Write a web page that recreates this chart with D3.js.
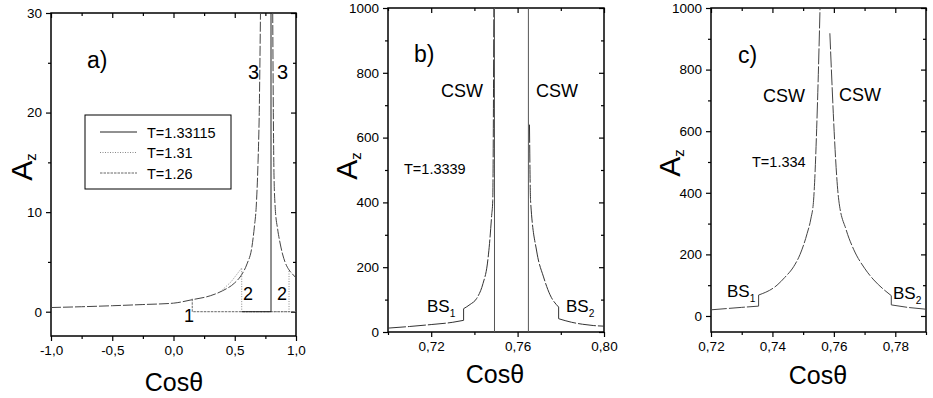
<!DOCTYPE html>
<html>
<head>
<meta charset="utf-8">
<script src="https://cdn.jsdelivr.net/npm/d3@7"></script>
<style>
  body { margin: 0; background: #fff; }
  svg text { font-family: Arial, "Liberation Sans", sans-serif; fill: #000; }
  .axis path, .axis line { stroke: #000; }
  .axis text { font-size: 13.5px; }
</style>
</head>
<body>
<svg id="fig" width="933" height="398"></svg>
<script>
// ---------------------------------------------------------------
// data

// panel a)
var aMainX  = [-1, -0.75, -0.5, -0.25, 0, 0.15, 0.3, 0.4, 0.5, 0.55, 0.6, 0.64, 0.66, 0.675, 0.69, 0.70, 0.71];
var aMainY  = [0.42, 0.5, 0.6, 0.72, 0.86, 1.2, 1.6, 2.1, 2.9, 3.6, 4.8, 6.5, 8.5, 10.5, 15, 20, 30];
var aRightX = [0.81, 0.815, 0.82, 0.83, 0.85, 0.87, 0.89, 0.91, 0.943, 0.97, 1.0];
var aRightY = [30, 20, 14, 10.5, 8.3, 6.9, 5.8, 5.0, 4.2, 3.8, 3.4];
var a131X   = [0.40, 0.47, 0.52, 0.557, 0.557, 0.557, 0.943, 0.943];
var a131Y   = [2.2, 3.0, 3.8, 4.4, 2.2, 0, 0, 4.2];
var a126X   = [0.153, 0.153, 1.0];
var a126Y   = [1.3, 0, 0];
var a133X   = [0.557, 0.796, 0.796];
var a133Y   = [0, 0, 30];
var legendLabels = ["T=1.33115", "T=1.31", "T=1.26"];

// panel b)  T=1.3339
var bLeftX  = [0.700, 0.71, 0.72, 0.73, 0.735, 0.735, 0.738, 0.741, 0.744, 0.746, 0.747, 0.748, 0.7485, 0.749];
var bLeftY  = [12, 17, 23, 30, 36, 72, 85, 103, 150, 210, 273, 360, 406, 1000];
var bRightX = [0.7655, 0.766, 0.7689, 0.772, 0.775, 0.779, 0.779, 0.785, 0.79, 0.795, 0.80];
var bRightY = [640, 406, 247, 170, 115, 77, 41, 30, 24, 20, 18];
var bLinesX = [0.7493, 0.765];

// panel c)  T=1.334
var cLeftX  = [0.72, 0.725, 0.73, 0.7355, 0.7355, 0.7415, 0.744, 0.7469, 0.749, 0.7513, 0.7525, 0.7534, 0.7547, 0.7555];
var cLeftY  = [20, 24, 28, 32, 68, 100, 125, 160, 200, 268, 315, 376, 701, 1000];
var cRightX = [0.7587, 0.7616, 0.764, 0.7665, 0.770, 0.773, 0.776, 0.7787, 0.7787, 0.784, 0.79];
var cRightY = [918, 376, 280, 215, 155, 117, 88, 66, 36, 28, 22];

// ticks
var aXMajor = [-1, -0.5, 0, 0.5, 1], aXMinor = [-0.75, -0.25, 0.25, 0.75];
var aYMajor = [0, 10, 20, 30],       aYMinor = [5, 15, 25];
var bXMajor = [0.72, 0.76, 0.80],    bXMinor = [0.70, 0.74, 0.78];
var cXMajor = [0.72, 0.74, 0.76, 0.78], cXMinor = [0.73, 0.75, 0.77, 0.79];
var kYMajor = [0, 200, 400, 600, 800, 1000], kYMinor = [100, 300, 500, 700, 900];

// ---------------------------------------------------------------

var svg = d3.select("#fig");
var comma = function(f) {
    return function(d) { return d3.format(f)(d).replace(".", ",").replace("\u2212", "-"); };
};

function zip(xs, ys) { return xs.map(function(x, i) { return [x, ys[i]]; }); }

// split a polyline where x repeats (the jumps), so each smooth piece can be curved
function pieces(pts)
{
    var out = [[pts[0]]];
    for (var i = 1; i < pts.length; i++) {
        if (pts[i][0] === pts[i - 1][0]) out.push([pts[i]]);
        else out[out.length - 1].push(pts[i]);
    }
    return out;
}

function panel(p)
{
    var g = svg.append("g");
    var x = d3.scaleLinear().domain(p.xd).range([p.l, p.r]);
    var y = d3.scaleLinear().domain(p.yd).range([p.b, p.t]);

    function ax(gen, tr, vals, size, labels) {
        var a = gen.tickValues(vals).tickSize(size).tickPadding(4);
        if (!labels) a.tickFormat("");
        else a.tickFormat(labels);
        var s = g.append("g").attr("class", "axis").attr("transform", tr).call(a);
        s.select(".domain").remove();
        s.selectAll("line").attr("stroke-width", 1.2);
        return s;
    }
    // bottom / left outward, top / right inward
    ax(d3.axisBottom(x), "translate(0," + p.b + ")", p.xMaj, 5, p.xFmt);
    ax(d3.axisBottom(x), "translate(0," + p.b + ")", p.xMin, 3);
    ax(d3.axisTop(x),    "translate(0," + p.t + ")", p.xMaj, -5);
    ax(d3.axisTop(x),    "translate(0," + p.t + ")", p.xMin, -3);
    ax(d3.axisLeft(y),   "translate(" + p.l + ",0)", p.yMaj, 5, d3.format("d"));
    ax(d3.axisLeft(y),   "translate(" + p.l + ",0)", p.yMin, 3);
    ax(d3.axisRight(y),  "translate(" + p.r + ",0)", p.yMaj, -5);
    ax(d3.axisRight(y),  "translate(" + p.r + ",0)", p.yMin, -3);

    g.append("rect")
        .attr("x", p.l).attr("y", p.t)
        .attr("width", p.r - p.l).attr("height", p.b - p.t)
        .attr("fill", "none").attr("stroke", "#000").attr("stroke-width", 1.5);

    var clipId = "clip" + p.name;
    g.append("clipPath").attr("id", clipId)
        .append("rect").attr("x", p.l).attr("y", p.t)
        .attr("width", p.r - p.l).attr("height", p.b - p.t);

    var straight = d3.line().x(function(d) { return x(d[0]); }).y(function(d) { return y(d[1]); });
    var smooth = d3.line().x(function(d) { return x(d[0]); }).y(function(d) { return y(d[1]); })
        .curve(d3.curveMonotoneX);
    var plot = g.append("g").attr("clip-path", "url(#" + clipId + ")");
    p.series.forEach(function(s) {
        var pts = zip(s.x, s.y), d;
        if (s.smooth) {
            var ps = pieces(pts);
            d = ps.map(function(q) { return q.length > 1 ? smooth(q) : ""; }).join("");
            for (var k = 1; k < ps.length; k++)
                d += straight([ps[k - 1][ps[k - 1].length - 1], ps[k][0]]);
        } else d = straight(pts);
        plot.append("path")
            .attr("d", d)
            .attr("fill", "none")
            .attr("stroke", s.color)
            .attr("stroke-width", s.w || 1)
            .attr("stroke-dasharray", s.dash || null);
    });

    // axis titles
    g.append("text")
        .attr("x", p.xt[0]).attr("y", p.xt[1])
        .attr("text-anchor", "middle").attr("font-size", 25)
        .text("Cosθ");
    var yt = g.append("text")
        .attr("transform", "translate(" + p.yt[0] + "," + p.yt[1] + ") rotate(-90)")
        .attr("text-anchor", "middle").attr("font-size", 30);
    yt.append("tspan").text("A");
    yt.append("tspan").attr("font-size", 15).attr("dy", 4).text("z");

    return { g: g, x: x, y: y };
}

function label(g, x, y, txt, size, sub)
{
    var t = g.append("text").attr("x", x).attr("y", y).attr("font-size", size).text(txt);
    if (sub) t.append("tspan").attr("font-size", size * 0.6).attr("dy", size * 0.3).text(sub);
    return t;
}

// ----- a)
var A = panel({
    name: "a", l: 51, r: 296, t: 13, b: 336,
    xd: [-1, 1], yd: [-2.44, 30],
    xMaj: aXMajor, xMin: aXMinor, yMaj: aYMajor, yMin: aYMinor,
    xFmt: comma(".1f"),
    xt: [174, 391], yt: [32, 167],
    series: [
        { x: aMainX,  y: aMainY,  color: "#444", dash: "10,2", smooth: true },
        { x: aRightX, y: aRightY, color: "#444", dash: "10,2", smooth: true },
        { x: a131X,   y: a131Y,   color: "#888", dash: "1,1.5" },
        { x: a126X,   y: a126Y,   color: "#666", dash: "2.5,1" },
        { x: a133X,   y: a133Y,   color: "#222" }
    ]
});
label(A.g, 87, 68, "a)", 23);
label(A.g, 248, 79, "3", 20);
label(A.g, 277, 79, "3", 20);
label(A.g, 243, 300, "2", 18);
label(A.g, 277, 300, "2", 18);
label(A.g, 184, 322, "1", 18);

var leg = A.g.append("g");
leg.append("rect").attr("x", 85).attr("y", 115).attr("width", 146).attr("height", 74)
    .attr("fill", "#fff").attr("stroke", "#000").attr("stroke-width", 1);
var legDash = [null, "1,1.5", "2.5,1"], legCol = ["#222", "#888", "#666"];
legendLabels.forEach(function(s, i) {
    var yy = 132 + i * 20.5;
    leg.append("line").attr("x1", 100).attr("x2", 137).attr("y1", yy).attr("y2", yy)
        .attr("stroke", legCol[i]).attr("stroke-dasharray", legDash[i]);
    leg.append("text").attr("x", 147).attr("y", yy + 5.5).attr("font-size", 14.5).text(s);
});

// ----- b)
var B = panel({
    name: "b", l: 388, r: 604, t: 8, b: 332,
    xd: [0.70, 0.80], yd: [0, 1000],
    xMaj: bXMajor, xMin: bXMinor, yMaj: kYMajor, yMin: kYMinor,
    xFmt: comma(".2f"),
    xt: [495, 383], yt: [357, 166],
    series: [
        { x: bLeftX,  y: bLeftY,  color: "#333", dash: "18,2", smooth: true },
        { x: bRightX, y: bRightY, color: "#333", dash: "18,2", smooth: true },
        { x: [bLinesX[0], bLinesX[0]], y: [0, 1000], color: "#555" },
        { x: [bLinesX[1], bLinesX[1]], y: [0, 1000], color: "#555" }
    ]
});
label(B.g, 414, 62, "b)", 23);
label(B.g, 441, 97, "CSW", 18);
label(B.g, 536, 97, "CSW", 18);
label(B.g, 404, 174, "T=1.3339", 14.5);
label(B.g, 427, 312, "BS", 17, "1");
label(B.g, 566, 312, "BS", 17, "2");

// ----- c)
var C = panel({
    name: "c", l: 711, r: 926, t: 8, b: 332,
    xd: [0.72, 0.79], yd: [-52, 1000],
    xMaj: cXMajor, xMin: cXMinor, yMaj: kYMajor, yMin: kYMinor,
    xFmt: comma(".2f"),
    xt: [818, 384], yt: [680, 163],
    series: [
        { x: cLeftX,  y: cLeftY,  color: "#444", dash: "16,2", smooth: true },
        { x: cRightX, y: cRightY, color: "#444", dash: "16,2", smooth: true }
    ]
});
label(C.g, 738, 63, "c)", 23);
label(C.g, 763, 102, "CSW", 18);
label(C.g, 839, 101, "CSW", 18);
label(C.g, 752, 167, "T=1.334", 14.5);
label(C.g, 727, 297, "BS", 17, "1");
label(C.g, 893, 299, "BS", 17, "2");
</script>
</body>
</html>
